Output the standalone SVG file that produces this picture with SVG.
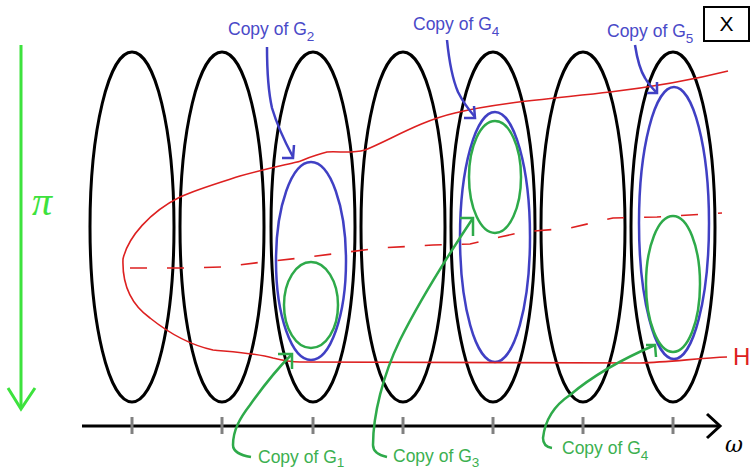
<svg xmlns="http://www.w3.org/2000/svg" width="753" height="471" viewBox="0 0 753 471">
<style>
.blk{fill:none;stroke:#000;stroke-width:3}
.blu{fill:none;stroke:#4040c4;stroke-width:2.5}
.grn{fill:none;stroke:#2eaa4a;stroke-width:2.5}
.red{fill:none;stroke:#dd2020;stroke-width:1.6}
.tick{stroke:#808080;stroke-width:3}
.lb{font-family:"Liberation Sans",Arial,sans-serif;font-size:17.5px}
.lbb{fill:#4a4ac8}
.lbg{fill:#3cb050}
.sub{font-size:13.5px}
</style>
<rect width="753" height="471" fill="#fff"/>
<g id="fibers">
<g id="fiber1"><ellipse class="blk" cx="132" cy="227" rx="42" ry="175"/></g>
<g id="fiber2"><ellipse class="blk" cx="222" cy="227" rx="42" ry="175"/></g>
<g id="fiber3"><ellipse class="blk" cx="313" cy="227" rx="42" ry="175"/></g>
<g id="fiber4"><ellipse class="blk" cx="403" cy="227" rx="42" ry="175"/></g>
<g id="fiber5"><ellipse class="blk" cx="493" cy="227" rx="42" ry="175"/></g>
<g id="fiber6"><ellipse class="blk" cx="583" cy="227" rx="42" ry="175"/></g>
<g id="fiber7"><ellipse class="blk" cx="673" cy="227" rx="42" ry="175"/></g>
</g>
<g id="copyG2"><ellipse class="blu" cx="311" cy="261" rx="35" ry="99"/></g>
<g id="copyG1"><ellipse class="grn" cx="311" cy="305" rx="27" ry="43"/></g>
<g id="copyG4a"><ellipse class="blu" cx="495" cy="237" rx="35" ry="125"/></g>
<g id="copyG3"><ellipse class="grn" cx="495" cy="177" rx="26" ry="56"/></g>
<g id="copyG5"><ellipse class="blu" cx="674" cy="223" rx="35" ry="136"/></g>
<g id="copyG4b"><ellipse class="grn" cx="673" cy="284" rx="27" ry="68"/></g>
<g id="H">
<path class="red" d="M728,71 C700,78 660,86 610,92 C560,98 500,102 455,113 C420,121 390,140 365,150 C350,154 340,151 327,152 C310,156 300,162 297,162 C280,166 265,169 240,176 C215,184 195,190 180,197 C150,212 128,237 123,259 C122,285 132,305 150,318 C170,334 190,345 213,350 C235,352 255,353 273,358 C285,361 292,362 300,362 L640,363 C670,362 700,358 727,357"/>
<polyline class="red" stroke-dasharray="17 20" points="130,268 183,268 223,267 263,262 300,258 380,248 433,245 470,244 500,237 523,232 570,228 613,218 657,217 722,213"/>
<text x="733" y="365" font-family="Liberation Sans,Arial,sans-serif" font-size="24" fill="#dd2020">H</text>
</g>
<g id="axis">
<line x1="82" y1="426" x2="719" y2="426" stroke="#000" stroke-width="3"/>
<polyline points="707,414 720,426 707,438" fill="none" stroke="#000" stroke-width="3"/>
<line class="tick" x1="132" y1="417" x2="132" y2="434"/>
<line class="tick" x1="222" y1="417" x2="222" y2="434"/>
<line class="tick" x1="313" y1="417" x2="313" y2="434"/>
<line class="tick" x1="403" y1="417" x2="403" y2="434"/>
<line class="tick" x1="493" y1="417" x2="493" y2="434"/>
<line class="tick" x1="583" y1="417" x2="583" y2="434"/>
<line class="tick" x1="673" y1="417" x2="673" y2="434"/>
<text x="725" y="452" font-family="DejaVu Serif,serif" font-style="italic" font-size="22" fill="#000">ω</text>
</g>
<g id="pi">
<line x1="21" y1="45" x2="21" y2="408" stroke="#3de23d" stroke-width="3"/>
<polyline points="8,388 21,409 35,388" fill="none" stroke="#3de23d" stroke-width="3"/>
<text x="32" y="215" font-family="Liberation Serif,serif" font-style="italic" font-size="40" fill="#3de23d">π</text>
</g>
<g id="X">
<rect x="704" y="7" width="45" height="34" fill="#fff" stroke="#000" stroke-width="2"/>
<text x="726.5" y="31" text-anchor="middle" font-family="Liberation Sans,Arial,sans-serif" font-size="21">X</text>
</g>
<g id="labels" class="lb">
<text x="228" y="35" class="lbb">Copy of G<tspan class="sub" dy="6">2</tspan></text>
<text x="413" y="30" class="lbb">Copy of G<tspan class="sub" dy="6">4</tspan></text>
<text x="607" y="37" class="lbb">Copy of G<tspan class="sub" dy="6">5</tspan></text>
<text x="258" y="463" class="lbg">Copy of G<tspan class="sub" dy="4">1</tspan></text>
<text x="393" y="462" class="lbg">Copy of G<tspan class="sub" dy="5">3</tspan></text>
<text x="562" y="454" class="lbg">Copy of G<tspan class="sub" dy="6">4</tspan></text>
</g>
<g id="connectors">
<path class="blu" d="M267,47 C267,70 268,90 272,108 C277,125 285,142 293,157"/>
<polyline class="blu" points="282,158 293,158 294,145"/>
<path class="blu" d="M447,40 C449,60 452,78 458,92 C463,102 469,110 475,117"/>
<polyline class="blu" points="464,118 475,118 474,106"/>
<path class="blu" d="M635,45 C637,58 640,70 645,78 C649,85 653,89 657,93"/>
<polyline class="blu" points="647,93 657,93 657,82"/>
<path class="grn" d="M251,457 C240,455 233,452 233,445 C233,430 240,418 250,405 C262,388 278,368 292,354"/>
<polyline class="grn" points="278,354 292,354 292,369"/>
<path class="grn" d="M387,457 C378,455 373,451 373,445 C373,415 383,375 400,340 C420,300 445,260 473,218"/>
<polyline class="grn" points="460,218 473,218 473,236"/>
<path class="grn" d="M552,448 C545,447 543,443 543,438 C545,420 555,405 570,395 C590,378 620,360 655,345"/>
<polyline class="grn" points="646,345 655,345 656,357"/>
</g>
</svg>
